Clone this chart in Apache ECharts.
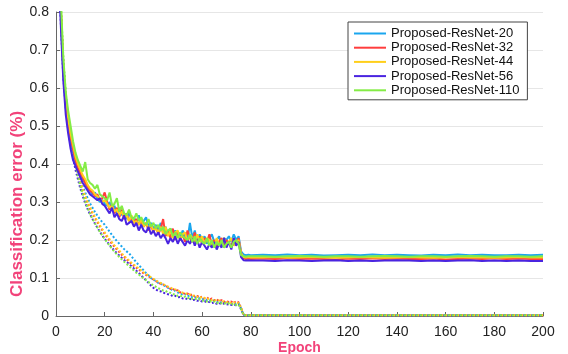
<!DOCTYPE html>
<html>
<head>
<meta charset="utf-8">
<script src="https://cdn.jsdelivr.net/npm/echarts@6/dist/echarts.min.js"></script>
<style>html,body{margin:0;padding:0;background:#fff}#c{width:568px;height:354px}</style>
</head>
<body>
<div id="c"></div>
<script>
const seriesNames = ['Proposed-ResNet-20','Proposed-ResNet-32','Proposed-ResNet-44','Proposed-ResNet-56','Proposed-ResNet-110'];
const xTicks = [0,20,40,60,80,100,120,140,160,180,200];
const yTicks = [0,0.1,0.2,0.3,0.4,0.5,0.6,0.7,0.8];
const xTitle = 'Epoch';
const yTitle = 'Classification error (%)';

const epochs = [1,2,3,4,5,6,7,8,9,10,11,12,13,14,15,16,17,18,19,20,21,22,23,24,25,26,27,28,29,30,31,32,33,34,35,36,37,38,39,40,41,42,43,44,45,46,47,48,49,50,51,52,53,54,55,56,57,58,59,60,61,62,63,64,65,66,67,68,69,70,71,72,73,74,75,76,77,78,79,80,
85,90,95,100,105,110,115,120,125,130,135,140,145,150,155,160,165,170,175,180,185,190,195,200];

// solid lines (test error)
const test20 = [0.95,0.79,0.64,0.55,0.50,0.46,0.43,0.40,0.385,0.37,0.36,0.35,0.335,0.33,0.32,0.325,0.31,0.30,0.305,0.295,
0.29,0.3,0.28,0.29,0.27,0.285,0.265,0.27,0.255,0.275,
0.25,0.26,0.245,0.265,0.24,0.25,0.26,0.235,0.245,0.23,
0.24,0.225,0.245,0.22,0.235,0.215,0.23,0.21,0.225,0.215,
0.205,0.225,0.21,0.2,0.245,0.205,0.225,0.195,0.215,0.2,
0.21,0.19,0.205,0.215,0.195,0.2,0.21,0.185,0.205,0.2,
0.21,0.195,0.215,0.2,0.21,
0.17,0.162,0.16,0.161,0.16,
0.161,0.16,0.162,0.16,0.161,0.159,0.16,0.161,0.16,0.162,0.16,0.161,0.16,0.159,0.161,0.16,0.162,0.16,0.161,0.16,0.16,0.161,0.16,0.161];
const test32 = [0.96,0.80,0.65,0.56,0.51,0.47,0.44,0.41,0.39,0.375,0.365,0.35,0.34,0.33,0.325,0.315,0.32,0.305,0.31,0.325,
0.3,0.28,0.295,0.27,0.285,0.26,0.28,0.255,0.27,0.25,
0.26,0.245,0.255,0.24,0.25,0.235,0.245,0.225,0.24,0.22,
0.235,0.215,0.23,0.255,0.21,0.225,0.205,0.23,0.2,0.22,
0.2,0.215,0.195,0.225,0.205,0.195,0.22,0.19,0.21,0.19,
0.205,0.195,0.215,0.185,0.2,0.18,0.195,0.205,0.185,0.2,
0.19,0.185,0.2,0.19,0.205,
0.165,0.152,0.15,0.151,0.15,
0.151,0.15,0.152,0.15,0.151,0.15,0.149,0.151,0.15,0.152,0.15,0.151,0.15,0.15,0.151,0.149,0.15,0.151,0.15,0.152,0.15,0.151,0.15,0.15];
const test44 = [0.96,0.81,0.66,0.57,0.52,0.48,0.45,0.42,0.40,0.385,0.37,0.36,0.345,0.335,0.33,0.32,0.315,0.31,0.30,0.305,
0.295,0.285,0.29,0.275,0.28,0.265,0.275,0.26,0.265,0.25,
0.265,0.245,0.25,0.24,0.255,0.235,0.245,0.23,0.24,0.225,
0.23,0.22,0.235,0.215,0.235,0.21,0.225,0.205,0.22,0.225,
0.2,0.215,0.22,0.195,0.215,0.205,0.195,0.215,0.195,0.21,
0.19,0.205,0.2,0.19,0.185,0.205,0.185,0.195,0.205,0.185,
0.195,0.205,0.185,0.195,0.2,
0.165,0.155,0.154,0.155,0.154,
0.154,0.155,0.153,0.154,0.155,0.154,0.153,0.154,0.155,0.154,0.153,0.154,0.155,0.154,0.153,0.154,0.155,0.154,0.154,0.153,0.154,0.155,0.154,0.154];
const test56 = [0.94,0.76,0.62,0.53,0.48,0.44,0.41,0.395,0.38,0.365,0.35,0.34,0.33,0.32,0.315,0.31,0.305,0.31,0.295,0.29,
0.28,0.27,0.285,0.26,0.27,0.255,0.25,0.265,0.24,0.245,
0.25,0.235,0.245,0.225,0.24,0.225,0.22,0.235,0.215,0.225,
0.21,0.22,0.205,0.215,0.205,0.19,0.205,0.195,0.21,0.19,
0.205,0.195,0.185,0.2,0.19,0.205,0.185,0.2,0.18,0.195,
0.185,0.175,0.19,0.18,0.195,0.175,0.19,0.18,0.205,0.18,
0.195,0.175,0.205,0.185,0.195,
0.155,0.147,0.146,0.147,0.146,
0.146,0.145,0.147,0.146,0.145,0.146,0.147,0.145,0.146,0.145,0.146,0.147,0.146,0.145,0.146,0.145,0.146,0.147,0.145,0.146,0.145,0.146,0.145,0.145];
const test110 = [0.97,0.83,0.68,0.59,0.54,0.50,0.46,0.43,0.41,0.395,0.38,0.405,0.36,0.35,0.345,0.335,0.345,0.32,0.315,0.31,
0.305,0.325,0.29,0.295,0.31,0.275,0.29,0.27,0.265,0.28,
0.26,0.255,0.27,0.25,0.26,0.245,0.24,0.255,0.235,0.245,
0.23,0.24,0.225,0.235,0.215,0.225,0.23,0.21,0.22,0.205,
0.22,0.21,0.205,0.2,0.215,0.195,0.21,0.19,0.205,0.195,
0.19,0.205,0.185,0.2,0.18,0.195,0.185,0.2,0.18,0.19,
0.195,0.18,0.195,0.2,0.19,
0.16,0.157,0.156,0.157,0.157,
0.157,0.156,0.157,0.158,0.157,0.156,0.157,0.157,0.156,0.157,0.158,0.157,0.156,0.157,0.157,0.156,0.157,0.158,0.157,0.156,0.157,0.157,0.156,0.157];

// dotted lines (training error)
const trainLate = [0.002,0.002,0.002,0.002,0.002,0.002,0.002,0.002,0.002,0.002,0.002,0.002,0.002,0.002,0.002,0.002,0.002,0.002,0.002,0.002,0.002,0.002,0.002,0.002];
const train20 = [0.95,0.80,0.67,0.58,0.52,0.475,0.44,0.41,0.385,0.36,0.342,0.325,0.31,0.296,0.285,0.274,0.264,0.255,0.247,0.24,0.231,0.222,0.213,0.205,0.197,0.19,0.183,0.176,0.17,0.165,0.157,0.149,0.141,0.134,0.127,0.12,0.113,0.107,0.1,0.095,0.093,0.087,0.086,0.08,0.079,0.074,0.073,0.066,0.067,0.062,0.061,0.056,0.058,0.052,0.054,0.049,0.05,0.046,0.047,0.044,0.045,0.041,0.043,0.039,0.041,0.037,0.039,0.035,0.037,0.033,0.036,0.032,0.035,0.031,0.033,0.02,0.004,0.002,0.002,0.002];
const train32 = [0.96,0.80,0.66,0.57,0.51,0.465,0.43,0.40,0.375,0.35,0.33,0.312,0.296,0.282,0.27,0.258,0.247,0.236,0.226,0.216,0.207,0.198,0.19,0.182,0.175,0.168,0.161,0.155,0.149,0.143,0.137,0.132,0.127,0.122,0.117,0.112,0.108,0.104,0.1,0.096,0.092,0.089,0.084,0.083,0.078,0.077,0.071,0.072,0.066,0.068,0.062,0.061,0.058,0.059,0.054,0.057,0.051,0.053,0.048,0.051,0.046,0.049,0.043,0.046,0.041,0.044,0.039,0.042,0.037,0.04,0.036,0.038,0.034,0.039,0.036,0.022,0.004,0.002,0.002,0.002];
const train44 = [0.96,0.81,0.67,0.575,0.515,0.47,0.433,0.403,0.378,0.354,0.334,0.316,0.3,0.286,0.273,0.261,0.25,0.239,0.229,0.22,0.211,0.202,0.194,0.186,0.179,0.172,0.165,0.158,0.152,0.146,0.14,0.135,0.13,0.125,0.12,0.115,0.111,0.106,0.102,0.098,0.094,0.09,0.087,0.083,0.081,0.077,0.075,0.071,0.07,0.066,0.065,0.061,0.061,0.057,0.057,0.053,0.054,0.05,0.051,0.047,0.048,0.044,0.046,0.042,0.043,0.04,0.041,0.038,0.039,0.036,0.037,0.034,0.036,0.033,0.034,0.021,0.004,0.002,0.002,0.002];
const train56 = [0.94,0.77,0.63,0.55,0.49,0.45,0.415,0.385,0.36,0.335,0.315,0.297,0.281,0.267,0.255,0.243,0.232,0.222,0.212,0.203,0.195,0.187,0.179,0.172,0.165,0.159,0.153,0.147,0.142,0.137,0.131,0.125,0.119,0.113,0.107,0.1,0.094,0.087,0.08,0.074,0.07,0.066,0.065,0.061,0.06,0.057,0.056,0.052,0.053,0.049,0.05,0.046,0.047,0.044,0.045,0.042,0.043,0.04,0.041,0.038,0.039,0.036,0.037,0.034,0.036,0.032,0.034,0.031,0.033,0.03,0.031,0.029,0.03,0.028,0.03,0.018,0.003,0.002,0.002,0.002];
const train110 = [0.97,0.82,0.68,0.585,0.52,0.47,0.43,0.397,0.368,0.342,0.32,0.301,0.284,0.269,0.256,0.244,0.233,0.222,0.212,0.203,0.194,0.185,0.177,0.169,0.162,0.155,0.149,0.143,0.137,0.131,0.125,0.12,0.114,0.109,0.104,0.099,0.094,0.089,0.085,0.08,0.077,0.073,0.071,0.067,0.066,0.062,0.061,0.057,0.057,0.053,0.054,0.05,0.051,0.047,0.048,0.045,0.046,0.042,0.044,0.04,0.041,0.038,0.04,0.036,0.038,0.034,0.036,0.033,0.035,0.031,0.033,0.03,0.032,0.029,0.031,0.019,0.003,0.002,0.002,0.002];

const colors = ['#1aa6ee','#ff3d3d','#ffcf1a','#4a24e0','#84ec46'];
const testSets = [test20,test32,test44,test56,test110];
const trainSets = [train20,train32,train44,train56,train110].map(a => a.concat(trainLate));

function pairs(vals){ return epochs.map((e,i)=>[e,vals[i]]); }

const series = [];
trainSets.forEach((vals,i)=>{
  series.push({
    name: seriesNames[i] + ' (train)', type:'line', data: pairs(vals),
    symbol:'none', silent:true, z:2,
    lineStyle:{color:colors[i], width:2, type:[2,2]}, itemStyle:{color:colors[i]}
  });
});
testSets.forEach((vals,i)=>{
  series.push({
    name: seriesNames[i], type:'line', data: pairs(vals),
    symbol:'none', silent:true, z:3,
    lineStyle:{color:colors[i], width:2}, itemStyle:{color:colors[i]}
  });
});

const FONT = 'Liberation Sans, Arial, sans-serif';
const chart = echarts.init(document.getElementById('c'), null, {renderer:'canvas'});
chart.setOption({
  animation:false,
  backgroundColor:'#fff',
  grid:{left:56, right:25, top:12, bottom:38, containLabel:false, outerBoundsMode:'none'},
  legend:{
    data: seriesNames.map((n,i)=>({name:n, itemStyle:{color:colors[i], opacity:0}, lineStyle:{color:colors[i], width:2, opacity:1}})),
    orient:'vertical', left:348, top:22,
    backgroundColor:'#fff', borderColor:'#444', borderWidth:1,
    padding:[5,8,3,5], itemWidth:32, itemHeight:10, itemGap:1.2,
    textStyle:{fontFamily:FONT, fontSize:13, color:'#111'}
  },
  xAxis:{
    type:'value', min:0, max:200, interval:20,
    name:xTitle, nameLocation:'middle', nameGap:25, nameMoveOverlap:false,
    nameTextStyle:{color:'#f2437a', fontWeight:'bold', fontSize:14, fontFamily:FONT},
    axisLine:{lineStyle:{color:'#666', width:1}},
    axisTick:{inside:true, length:4, lineStyle:{color:'#666'}},
    axisLabel:{color:'#222', fontSize:14, margin:9, fontFamily:FONT,
      formatter: v => xTicks.includes(v) ? String(v) : ''},
    splitLine:{show:false}
  },
  yAxis:{
    type:'value', min:0, max:0.8, interval:0.1,
    axisLine:{show:true, lineStyle:{color:'#666', width:1}},
    axisTick:{show:true, inside:true, length:4, lineStyle:{color:'#666'}},
    axisLabel:{color:'#222', fontSize:14, margin:7, fontFamily:FONT,
      formatter: v => { const t = yTicks.find(y => Math.abs(y - v) < 1e-9); return t === undefined ? '' : String(t); }},
    splitLine:{show:true, lineStyle:{color:'#e6e6e6', width:1}}
  },
  graphic:[{
    type:'text', x:17, y:204, rotation:Math.PI/2,
    style:{text:yTitle, fill:'#f2437a', font:'bold 17px ' + FONT, textAlign:'center', textVerticalAlign:'middle'}
  }],
  series: series
});
</script>
</body>
</html>
